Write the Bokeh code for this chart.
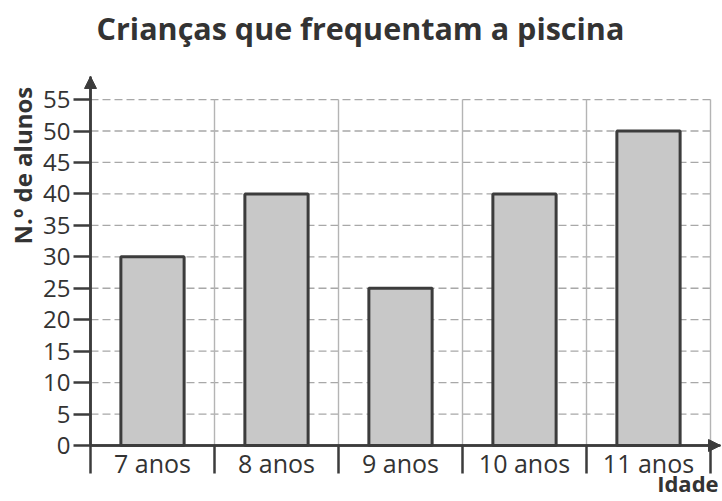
import math
from bokeh.plotting import figure
from bokeh.models import FixedTicker, Range1d, Label, Arrow, NormalHead, LinearAxis
from bokeh.embed import file_html
from bokeh.resources import INLINE

# ---- data ----
categories = ["7 anos", "8 anos", "9 anos", "10 anos", "11 anos"]
alunos = [30, 40, 25, 40, 50]
y_ticks = [0, 5, 10, 15, 20, 25, 30, 35, 40, 45, 50, 55]
title_text = "Crianças que frequentam a piscina"
y_label = "N.º de alunos"
x_label = "Idade"

DARK = "#333333"
AX = "#3c3c3c"
FONT = "Open Sans"

n = len(categories)
centers = [i + 0.5 for i in range(n)]
bounds = list(range(n + 1))
y_max = max(y_ticks)

# ranges chosen so the frame fills the page; axes are fixed at 0
X_END = 5.081
Y_END = 58.67
p = figure(width=722, height=501,
           x_range=Range1d(-0.7258, 5.0968), y_range=Range1d(-8.903, 70.75),
           output_backend="svg", toolbar_location=None,
           min_border=0, x_axis_type=None, y_axis_type=None)
p.outline_line_color = None
p.xgrid.visible = False
p.ygrid.visible = False
p.background_fill_color = "white"
p.border_fill_color = "white"

# grid: horizontal dashed, vertical solid
p.segment(x0=[0] * (len(y_ticks) - 1), x1=[n] * (len(y_ticks) - 1),
          y0=y_ticks[1:], y1=y_ticks[1:],
          line_color="#a8a8a8", line_width=1.3, line_dash="8 4")
p.segment(x0=bounds[1:], x1=bounds[1:], y0=[0] * n, y1=[y_max] * n,
          line_color="#b4b4b4", line_width=1.4)

# bars
p.vbar(x=centers, top=alunos, width=0.51, bottom=0,
       fill_color="#c8c8c8", line_color=AX, line_width=3)

# y axis
ya = LinearAxis(fixed_location=0, bounds=(0, Y_END))
ya.ticker = FixedTicker(ticks=y_ticks, minor_ticks=[])
ya.major_tick_out = 17
ya.major_tick_in = 0
ya.minor_tick_out = 0
ya.minor_tick_in = 0
ya.axis_line_width = 2.5
ya.axis_line_color = AX
ya.major_tick_line_width = 2.5
ya.major_tick_line_color = AX
ya.major_label_text_font = FONT
ya.major_label_text_font_size = "24px"
ya.major_label_text_color = DARK
ya.major_label_standoff = 3
p.add_layout(ya, "left")

# x axis: boundary ticks
xb = LinearAxis(fixed_location=0, bounds=(0, X_END))
xb.ticker = FixedTicker(ticks=bounds, minor_ticks=[])
xb.major_label_text_font_size = "0px"
xb.major_label_text_alpha = 0
xb.major_tick_out = 28
xb.major_tick_in = 0
xb.minor_tick_out = 0
xb.minor_tick_in = 0
xb.major_tick_line_width = 2.5
xb.major_tick_line_color = AX
xb.axis_line_width = 2.5
xb.axis_line_color = AX
p.add_layout(xb, "below")

# x axis: category labels
xl = LinearAxis(fixed_location=0, bounds=(0, X_END))
xl.ticker = FixedTicker(ticks=centers, minor_ticks=[])
xl.major_label_overrides = {c: cat for c, cat in zip(centers, categories)}
xl.major_tick_out = 0
xl.major_tick_in = 0
xl.minor_tick_out = 0
xl.minor_tick_in = 0
xl.major_tick_line_color = None
xl.axis_line_color = None
xl.major_label_text_font = FONT
xl.major_label_text_font_size = "25px"
xl.major_label_text_color = DARK
xl.major_label_standoff = 0
p.add_layout(xl, "below")

# axis arrows
p.add_layout(Arrow(end=NormalHead(size=12, fill_color=AX, line_color=AX),
                   x_start=0, y_start=0, x_end=0, y_end=Y_END,
                   line_color=AX, line_width=2.5))
p.add_layout(Arrow(end=NormalHead(size=12, fill_color=AX, line_color=AX),
                   x_start=0, y_start=0, x_end=X_END, y_end=0,
                   line_color=AX, line_width=2.5))

# title and axis titles
p.add_layout(Label(x=2.177, y=66.3, text=title_text,
                   text_align="center", text_baseline="alphabetic",
                   text_font=FONT, text_font_size="30.5px", text_font_style="bold",
                   text_color=DARK))
p.add_layout(Label(x=-0.548, y=44.5, text=y_label, angle=math.pi / 2,
                   text_align="center", text_baseline="middle",
                   text_font=FONT, text_font_size="24px", text_font_style="bold",
                   text_color=DARK))
p.add_layout(Label(x=5.065, y=-5.9, text=x_label,
                   text_align="right", text_baseline="middle",
                   text_font=FONT, text_font_size="22px", text_font_style="bold",
                   text_color=DARK))

open("out.html", "w").write(file_html(p, INLINE))
